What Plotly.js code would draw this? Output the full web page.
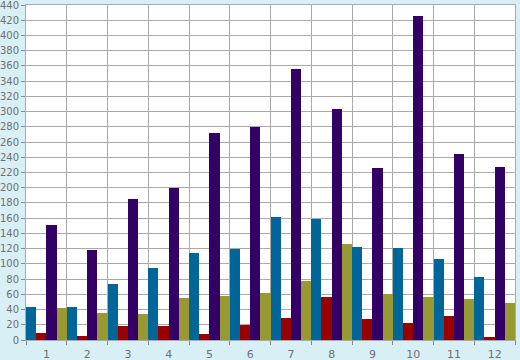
<!DOCTYPE html>
<html>
<head>
<meta charset="utf-8">
<script src="https://cdn.plot.ly/plotly-3.0.1.min.js"></script>
<style>html,body{margin:0;padding:0;background:#d9eff6;}</style>
</head>
<body>
<div id="chart" style="width:520px;height:360px;"></div>
<script>
var categories = ['1','2','3','4','5','6','7','8','9','10','11','12'];
var seriesBlue   = [44, 43, 73.5, 94.5, 114, 119.5, 161.5, 159, 122, 121, 106, 82.5];
var seriesRed    = [9, 5, 18, 18, 8, 19.5, 29, 56.5, 27.5, 22, 31, 4];
var seriesPurple = [151, 118, 185, 200, 272, 280, 356, 303.5, 226, 425.5, 244, 227];
var seriesOlive  = [42, 35, 34, 55, 58, 61.5, 77.5, 126, 60.5, 56.5, 54, 48.5];
var colors = ['#006699', '#990000', '#330066', '#999933'];
var yTicks = [];
for (var v = 0; v <= 440; v += 20) yTicks.push(v);

var allSeries = [seriesBlue, seriesRed, seriesPurple, seriesOlive];
var traces = allSeries.map(function (s, i) {
  return {type: 'bar', x: categories, y: s, marker: {color: colors[i], line: {width: 0}},
          hoverinfo: 'none', showlegend: false};
});

var gridC = '#aaaaaa';
var labelC = '#707070';
var layout = {
  width: 520, height: 360,
  margin: {l: 26, r: 5, t: 5, b: 20, pad: 0},
  paper_bgcolor: '#d9eff6',
  plot_bgcolor: '#ffffff',
  barmode: 'group', bargap: 0, bargroupgap: 0,
  font: {family: 'DejaVu Sans, sans-serif', size: 10, color: labelC},
  xaxis: {
    type: 'category', tickson: 'boundaries', ticks: 'outside', ticklen: 4, tickwidth: 1,
    tickcolor: '#888888', showgrid: true, gridcolor: gridC, gridwidth: 1,
    showline: true, linecolor: gridC, mirror: true, linewidth: 1,
    ticklabelstandoff: 4,
    tickfont: {size: 11, color: labelC}, fixedrange: true
  },
  yaxis: {
    range: [0, 440], tickmode: 'array', tickvals: yTicks, ticktext: yTicks.map(String),
    ticks: 'outside', ticklen: 4, tickcolor: '#888888', tickwidth: 1,
    ticklabeloverflow: 'allow', ticklabelstandoff: 0,
    showgrid: true, gridcolor: gridC, gridwidth: 1,
    zeroline: true, zerolinecolor: gridC, zerolinewidth: 1,
    showline: true, linecolor: gridC, mirror: true, linewidth: 1,
    tickfont: {size: 10, color: labelC}, fixedrange: true
  }
};
Plotly.newPlot('chart', traces, layout, {staticPlot: true, displayModeBar: false});
</script>
</body>
</html>
